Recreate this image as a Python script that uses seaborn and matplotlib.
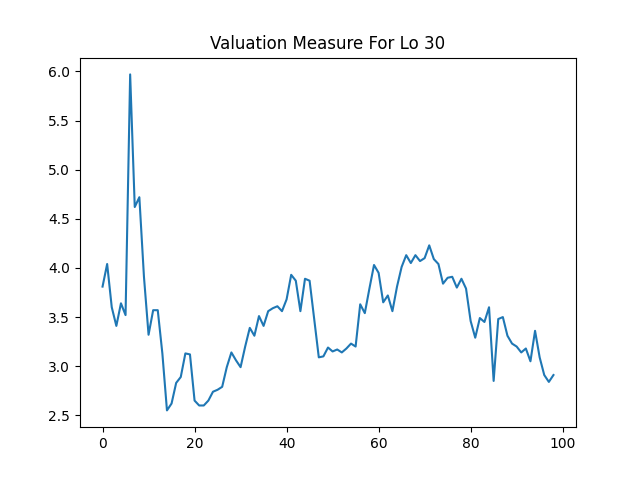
import numpy as np
import pandas as pd
import seaborn as sns
import matplotlib
matplotlib.use("Agg")
import matplotlib.pyplot as plt

values = [
    3.81, 4.04, 3.60, 3.41, 3.64, 3.52, 5.97, 4.62, 4.72, 3.91,
    3.32, 3.57, 3.57, 3.13, 2.55, 2.62, 2.83, 2.89, 3.13, 3.12,
    2.65, 2.60, 2.60, 2.65, 2.74, 2.76, 2.79, 2.99, 3.14, 3.06,
    2.99, 3.20, 3.39, 3.31, 3.51, 3.41, 3.56, 3.59, 3.61, 3.56,
    3.68, 3.93, 3.87, 3.56, 3.89, 3.87, 3.48, 3.09, 3.10, 3.19,
    3.15, 3.17, 3.14, 3.18, 3.23, 3.20, 3.63, 3.54, 3.79, 4.03,
    3.95, 3.65, 3.72, 3.56, 3.81, 4.01, 4.13, 4.05, 4.13, 4.07,
    4.10, 4.23, 4.09, 4.04, 3.84, 3.90, 3.91, 3.80, 3.89, 3.79,
    3.46, 3.29, 3.49, 3.45, 3.60, 2.85, 3.48, 3.50, 3.31, 3.23,
    3.20, 3.14, 3.18, 3.05, 3.36, 3.09, 2.91, 2.84, 2.91,
]
index = list(range(len(values)))

df = pd.DataFrame({"index": index, "value": values})

fig, ax = plt.subplots(figsize=(6.4, 4.8), dpi=100)
sns.lineplot(data=df, x="index", y="value", ax=ax, color="#1f77b4")
ax.set_xlabel("")
ax.set_ylabel("")
ax.set_title("Valuation Measure For Lo 30")
fig.savefig("out.png")
